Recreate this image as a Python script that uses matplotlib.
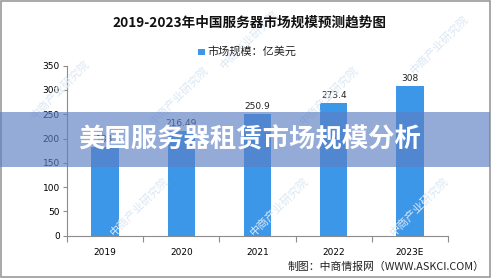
import matplotlib
matplotlib.use("Agg")
import matplotlib.pyplot as plt
from matplotlib.patches import Rectangle

plt.rcParams['font.family'] = ['Noto Sans CJK SC', 'DejaVu Sans']

# 数据
years = ["2019", "2020", "2021", "2022", "2023E"]
values = [183.0, 216.49, 250.9, 273.4, 308]
value_labels = ["183", "216.49", "250.9", "273.4", "308"]
yticks = [0, 50, 100, 150, 200, 250, 300, 350]

title = "2019-2023年中国服务器市场规模预测趋势图"
legend_label = "市场规模：亿美元"
banner = "美国服务器租赁市场规模分析"
source = "制图：中商情报网（WWW.ASKCI.COM）"
watermark = "中商产业研究院"

bar_color = "#3d97e9"
axis_color = "#8c8c8c"

fig = plt.figure(figsize=(4.99, 2.79), dpi=100)
fig.patch.set_facecolor("white")

# 水印
wm_pos = [(0.50, 0.86), (0.88, 0.84), (0.12, 0.68), (0.36, 0.66), (0.66, 0.66),
          (0.28, 0.26), (0.56, 0.26), (0.84, 0.26)]
for wx, wy in wm_pos:
    fig.text(wx, wy, watermark, rotation=45, fontsize=8, color="#dbe7f4",
             ha="center", va="center", zorder=0)

ax = fig.add_axes([0.134, 0.155, 0.764, 0.6095])
ax.patch.set_alpha(0)
x = range(len(years))
bars = ax.bar(x, values, width=0.36, color=bar_color, zorder=2, label=legend_label)
for xi, v, lab in zip(x, values, value_labels):
    ax.text(xi, v + 6, lab, ha="center", va="bottom", fontsize=6.5,
            family="DejaVu Sans", color="#222222")

ax.set_xlim(-0.5, len(years) - 0.5)
ax.set_ylim(0, 350)
ax.set_yticks(yticks)
ax.set_yticklabels([str(t) for t in yticks], fontsize=6.5, family="DejaVu Sans")
ax.set_xticks([i + 0.5 for i in range(-1, len(years))])
ax.set_xticklabels([])
ax.set_xticks(list(x), minor=True)
ax.set_xticklabels(years, minor=True, fontsize=6.5, family="DejaVu Sans")
ax.tick_params(axis="x", which="minor", length=0, pad=9)
ax.tick_params(axis="x", which="major", length=4, color=axis_color)
ax.tick_params(axis="y", length=3, color=axis_color, pad=2)
for s in ["top", "right"]:
    ax.spines[s].set_visible(False)
for s in ["left", "bottom"]:
    ax.spines[s].set_color(axis_color)

# 标题与图例
fig.text(0.5, 0.918, title, ha="center", va="center", fontsize=9.8,
         fontweight="bold", color="#111111")
fig.patches.append(Rectangle((0.397, 0.802), 0.013, 0.024, transform=fig.transFigure,
                             facecolor=bar_color, edgecolor="none"))
fig.text(0.415, 0.814, legend_label, ha="left", va="center", fontsize=8, color="#222222")

# 来源
fig.text(0.972, 0.043, source, ha="right", va="center", fontsize=7.8, color="#222222")

# 边框
fig.patches.append(Rectangle((0.003, 0.006), 0.979, 0.99, transform=fig.transFigure,
                             facecolor="none", edgecolor="#9a9a9a", linewidth=1.2))

# 横幅
fig.patches.append(Rectangle((0.0, 0.402), 0.982, 0.197, transform=fig.transFigure,
                             facecolor="#5b7fc4", alpha=0.65, edgecolor="none", zorder=5))
fig.text(0.5, 0.5, banner, ha="center", va="center", fontsize=19,
         fontweight="bold", color="white", zorder=6)

fig.savefig("out.png", dpi=100)
